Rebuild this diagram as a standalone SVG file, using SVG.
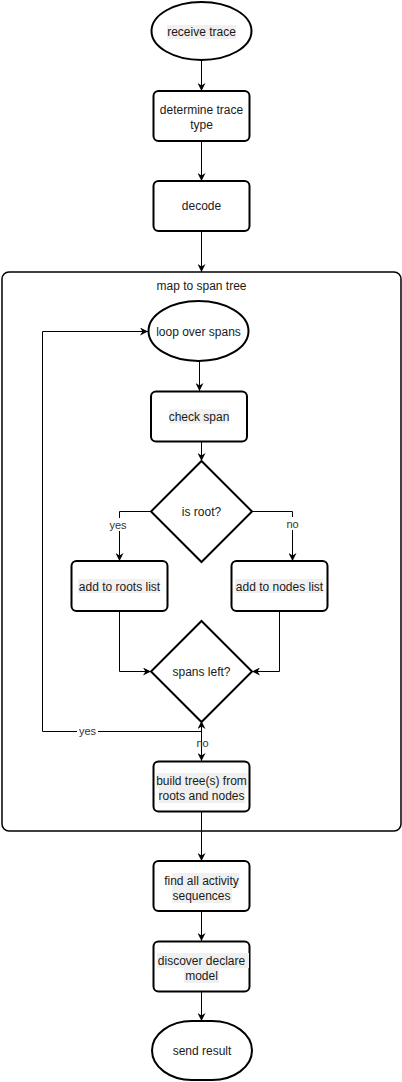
<svg xmlns="http://www.w3.org/2000/svg" width="402" height="1082" viewBox="0 0 402 1082">
<style>
.n{fill:#fff;stroke:#000;stroke-width:2}
.t{font-family:"Liberation Sans",Arial,sans-serif;font-size:12px;fill:#1a1a1a;text-anchor:middle}
.l{font-family:"Liberation Sans",Arial,sans-serif;font-size:11px;fill:#333;text-anchor:middle}
.hl{fill:#f0f0f0}
.c{fill:none;stroke:#000;stroke-width:1}
</style>
<defs>
<marker id="a" viewBox="0 0 10 10" refX="10" refY="5" markerWidth="8" markerHeight="8" markerUnits="userSpaceOnUse" orient="auto-start-reverse">
<path d="M0,0 L10,5 L0,10 L3,5 z" fill="#000"/>
</marker>
</defs>
<rect width="402" height="1082" fill="#fff"/>
<g id="container">
<rect x="2" y="272" width="399" height="559" rx="7" fill="none" stroke="#000" stroke-width="1.5"/>
<text class="t" x="201.5" y="290">map to span tree</text>
</g>
<g id="connectors">
<path class="c" d="M201.5,61 V91" marker-end="url(#a)"/>
<path class="c" d="M201.5,141 V181" marker-end="url(#a)"/>
<path class="c" d="M201.5,231 V272" marker-end="url(#a)"/>
<path class="c" d="M199.5,361 V391" marker-end="url(#a)"/>
<path class="c" d="M201.5,442 V461" marker-end="url(#a)"/>
<path class="c" d="M151,511.5 H119.5 V561" marker-end="url(#a)"/>
<path class="c" d="M252,511.5 H292.5 V561" marker-end="url(#a)"/>
<path class="c" d="M119.5,611 V671.5 H151" marker-end="url(#a)"/>
<path class="c" d="M279.5,611 V671.5 H252" marker-end="url(#a)"/>
<path class="c" d="M201.5,721 V731.5 H42.5 V331.5 H148" marker-end="url(#a)"/>
<path class="c" d="M201.5,721 V761" marker-start="url(#a)" marker-end="url(#a)"/>
<path class="c" d="M201.5,812 V861" marker-end="url(#a)"/>
<path class="c" d="M201.5,911 V941" marker-end="url(#a)"/>
<path class="c" d="M201.5,992 V1021" marker-end="url(#a)"/>
<rect x="107" y="518" width="22" height="13" fill="#fff"/>
<text class="l" x="118" y="528.5">yes</text>
<rect x="284" y="517" width="16" height="13" fill="#fff"/>
<text class="l" x="292.5" y="527.5">no</text>
<rect x="77" y="725" width="21" height="13" fill="#fff"/>
<text class="l" x="87.5" y="735">yes</text>
<text class="l" x="202.5" y="747">no</text>
</g>
<g id="receive-trace">
<ellipse class="n" cx="201.5" cy="31" rx="50" ry="29"/>
<rect class="hl" x="167" y="25" width="69" height="14"/>
<text class="t" x="201.5" y="35.5">receive trace</text>
</g>
<g id="determine-trace-type">
<rect class="n" x="153.5" y="91" width="96" height="50" rx="5"/>
<text class="t" x="201.5" y="114">determine trace</text>
<text class="t" x="201.5" y="129">type</text>
</g>
<g id="decode">
<rect class="n" x="153.5" y="181" width="96" height="50" rx="5"/>
<text class="t" x="201.5" y="210">decode</text>
</g>
<g id="loop-over-spans">
<ellipse class="n" cx="198.5" cy="331" rx="50" ry="30"/>
<text class="t" x="198.5" y="335.5">loop over spans</text>
</g>
<g id="check-span">
<rect class="n" x="151" y="391.5" width="96" height="50" rx="5"/>
<rect class="hl" x="169" y="409.5" width="60" height="14"/>
<text class="t" x="199" y="421">check span</text>
</g>
<g id="is-root">
<path class="n" d="M201.5,461 L252,511.5 L201.5,562 L151,511.5 Z"/>
<text class="t" x="201.5" y="516">is root?</text>
</g>
<g id="add-roots">
<rect class="n" x="71.5" y="561" width="96" height="50" rx="5"/>
<rect class="hl" x="78" y="579" width="82" height="14"/>
<text class="t" x="119.5" y="590.5">add to roots list</text>
</g>
<g id="add-nodes">
<rect class="n" x="231.5" y="561" width="96" height="50" rx="5"/>
<rect class="hl" x="235" y="579" width="88" height="14"/>
<text class="t" x="279.5" y="590.5">add to nodes list</text>
</g>
<g id="spans-left">
<path class="n" d="M201.5,621 L252,671.5 L201.5,722 L151,671.5 Z"/>
<text class="t" x="201.5" y="676">spans left?</text>
</g>
<g id="build-tree">
<rect class="n" x="153.5" y="761.5" width="96" height="50" rx="5"/>
<rect class="hl" x="156.5" y="773" width="91" height="15"/>
<rect class="hl" x="159" y="788" width="86" height="15"/>
<text class="t" x="201.5" y="784.5">build tree(s) from</text>
<text class="t" x="201.5" y="799.5">roots and nodes</text>
</g>
<g id="find-sequences">
<rect class="n" x="153.5" y="861" width="96" height="50" rx="5"/>
<rect class="hl" x="172" y="873" width="67" height="15"/>
<rect class="hl" x="172" y="888" width="60" height="15"/>
<text class="t" x="201.5" y="884.5">find all activity</text>
<text class="t" x="201.5" y="899.5">sequences</text>
</g>
<g id="discover-model">
<rect class="n" x="153.5" y="941.5" width="96" height="50" rx="5"/>
<rect class="hl" x="157" y="953" width="92" height="15"/>
<rect class="hl" x="184" y="968" width="35" height="15"/>
<text class="t" x="201.5" y="964.5">discover declare</text>
<text class="t" x="201.5" y="979.5">model</text>
</g>
<g id="send-result">
<rect class="n" x="152" y="1021" width="100" height="59" rx="40" ry="29.5"/>
<text class="t" x="202" y="1055">send result</text>
</g>
</svg>
